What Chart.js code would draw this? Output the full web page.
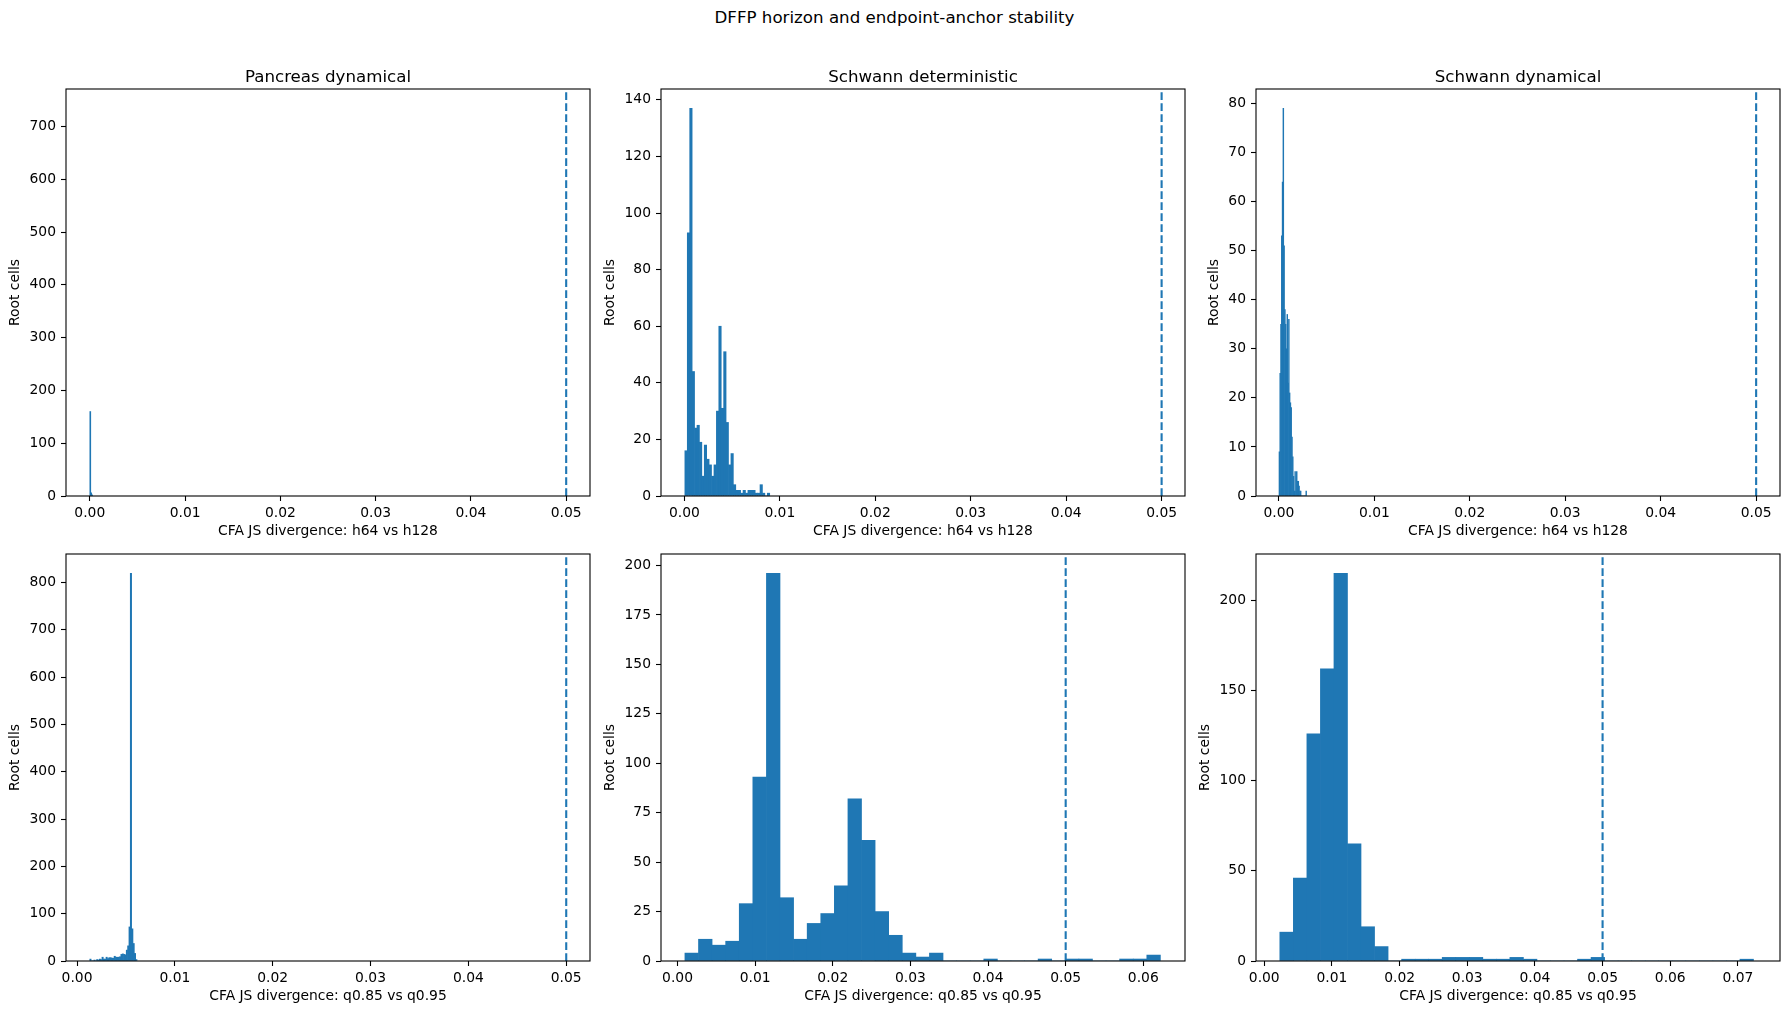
<!DOCTYPE html>
<html>
<head>
<meta charset="utf-8">
<title>DFFP horizon and endpoint-anchor stability</title>
<script src="https://cdn.jsdelivr.net/npm/chart.js@4.4.1/dist/chart.umd.min.js"></script>
<style>
    html, body { margin: 0; padding: 0; background: #ffffff; }
    #page { position: relative; width: 1789px; height: 1014px; overflow: hidden; font-family: 'DejaVu Sans', sans-serif; }
    #suptitle { position: absolute; left: 0; top: 8px; width: 1789px; text-align: center; font-size: 16.67px; line-height: 20px; color: #000; }
    canvas { position: absolute; }
</style>
</head>
<body>
<div id="page">
    <div id="suptitle">DFFP horizon and endpoint-anchor stability</div>
    <canvas id="chart0"></canvas>
    <canvas id="chart1"></canvas>
    <canvas id="chart2"></canvas>
    <canvas id="chart3"></canvas>
    <canvas id="chart4"></canvas>
    <canvas id="chart5"></canvas>
</div>
<script>
// Text
const panelTitles = ['Pancreas dynamical', 'Schwann deterministic', 'Schwann dynamical'];
const xAxisLabels = ['CFA JS divergence: h64 vs h128', 'CFA JS divergence: q0.85 vs q0.95'];
const yAxisLabel = 'Root cells';
const threshold = 0.05;

// Histogram counts per bin (top row: h64 vs h128, bottom row: q0.85 vs q0.95)
const pancreasHorizon = [160, 6, 2];
const schwannDetHorizon = [16, 93, 137, 44, 24, 25, 19, 7, 18, 13, 11, 7, 11, 30, 60, 31, 51, 26, 11, 15,
    4, 2, 2, 1, 2, 1, 2, 2, 2, 1, 1, 4, 1, 0, 1];
const schwannDynHorizon = [9, 25, 35, 53, 64, 79, 51, 38, 35, 30, 37, 23, 36, 21, 19, 18, 12, 8, 4, 1,
    5, 1, 5, 3, 3, 2, 1, 1, 0, 0, 0, 0, 0, 0, 1];
const pancreasAnchor = [4, 0, 0, 2, 0, 3, 2, 4, 3, 8, 4, 4, 8, 5, 7, 7, 6, 6, 10, 8,
    8, 8, 9, 14, 15, 14, 13, 23, 32, 72, 819, 68, 37, 16, 3];
const schwannDetAnchor = [4, 11, 8, 10, 29, 93, 196, 32, 11, 19, 24, 38, 82, 61, 25, 13, 4, 2, 4, 0,
    0, 0, 1, 0, 0, 0, 1, 0, 1, 1, 0, 0, 1, 1, 3];
const schwannDynAnchor = [16, 46, 126, 162, 215, 65, 19, 8, 0, 1, 1, 1, 2, 2, 2, 1, 1, 2, 1, 0,
    0, 0, 1, 2, 0, 0, 0, 0, 0, 0, 0, 0, 0, 0, 1];

// Bin edges: first edge and bin width for each panel
const binStarts = [0, 0.00005, 0.00001, 0.0013, 0.00095, 0.0023];
const binWidths = [0.0001, 0.000254, 0.0000826, 0.000138, 0.00175, 0.002];

// Axis limits
const xMins = [-0.0025, -0.00245, -0.0024, -0.00113, -0.00213, -0.00122];
const xMaxs = [0.0525, 0.05245, 0.0525, 0.05243, 0.06537, 0.07622];
const yMaxs = [771, 143.85, 82.95, 860, 205.8, 225.75];

// Tick values
const xTicksTo05 = [0, 0.01, 0.02, 0.03, 0.04, 0.05];
const xTicksTo06 = [0, 0.01, 0.02, 0.03, 0.04, 0.05, 0.06];
const xTicksTo07 = [0, 0.01, 0.02, 0.03, 0.04, 0.05, 0.06, 0.07];
const yTicksPancreasH = [0, 100, 200, 300, 400, 500, 600, 700];
const yTicksSchwannDetH = [0, 20, 40, 60, 80, 100, 120, 140];
const yTicksSchwannDynH = [0, 10, 20, 30, 40, 50, 60, 70, 80];
const yTicksPancreasQ = [0, 100, 200, 300, 400, 500, 600, 700, 800];
const yTicksSchwannDetQ = [0, 25, 50, 75, 100, 125, 150, 175, 200];
const yTicksSchwannDynQ = [0, 50, 100, 150, 200];

// Layout (px)
const colLeft = [66, 661, 1256];
const rowTop = [89, 554];
const plotW = 524, plotH = 407;
const yAxisW = 70, titleH = 21, xAxisH = 48, rightPad = 20;

const barColor = '#1f77b4';

Chart.defaults.font.family = "'DejaVu Sans', sans-serif";
Chart.defaults.font.size = 13.89;
Chart.defaults.color = '#000000';

// Axes box on all four sides
const framePlugin = {
    id: 'frame',
    afterDatasetsDraw(chart) {
        const a = chart.chartArea;
        const ctx = chart.ctx;
        ctx.save();
        ctx.strokeStyle = '#000000';
        ctx.lineWidth = 1.1;
        ctx.strokeRect(a.left, a.top, a.right - a.left, a.bottom - a.top);
        ctx.restore();
    }
};

// Create one histogram panel
function createHistogram(canvasId, col, row, panel) {
    const canvas = document.getElementById(canvasId);
    if (!canvas) return null;

    const w = plotW + yAxisW + rightPad;
    const h = plotH + titleH + xAxisH;
    canvas.width = w;
    canvas.height = h;
    canvas.style.width = w + 'px';
    canvas.style.height = h + 'px';
    canvas.style.left = (colLeft[col] - yAxisW) + 'px';
    canvas.style.top = (rowTop[row] - titleH) + 'px';

    const bars = panel.counts.map((count, i) => ({
        x: panel.start + (i + 0.5) * panel.width,
        y: count
    }));

    // keep the y label clear of the widest tick label
    const digits = Math.max(...panel.yTicks.map(v => String(v).length));
    const yTitlePad = yAxisW - 10 - digits * 8.84 - 5.6 - 16.7;

    return new Chart(canvas, {
        type: 'bar',
        data: {
            datasets: [{
                type: 'bar',
                data: bars,
                backgroundColor: barColor,
                borderWidth: 0,
                barPercentage: 1,
                categoryPercentage: 1,
                order: 2
            }, {
                type: 'line',
                data: [{ x: threshold, y: 0 }, { x: threshold, y: panel.yMax }],
                borderColor: barColor,
                borderWidth: 2.1,
                borderDash: [7.7, 3.3],
                pointRadius: 0,
                fill: false,
                order: 1
            }]
        },
        options: {
            responsive: false,
            animation: false,
            devicePixelRatio: 1,
            layout: {
                padding: { left: 0, top: 0, right: rightPad, bottom: 0 }
            },
            plugins: {
                legend: { display: false },
                tooltip: { enabled: false },
                title: {
                    display: true,
                    text: panel.title,
                    fullSize: false,
                    color: '#000000',
                    font: { size: 16.67, weight: 'normal', lineHeight: '20px' },
                    padding: { top: 0, bottom: 1 }
                }
            },
            scales: {
                x: {
                    type: 'linear',
                    min: panel.xMin,
                    max: panel.xMax,
                    offset: false,
                    grid: {
                        display: true,
                        drawOnChartArea: false,
                        drawTicks: true,
                        tickLength: 5,
                        tickWidth: 1.1,
                        tickColor: '#000000',
                        offset: false
                    },
                    border: { display: false },
                    ticks: {
                        autoSkip: false,
                        maxRotation: 0,
                        padding: 4,
                        callback: (value) => value.toFixed(2)
                    },
                    afterBuildTicks: (scale) => {
                        scale.ticks = panel.xTicks.map(v => ({ value: v }));
                    },
                    afterFit: (scale) => {
                        scale.height = xAxisH;
                        scale.paddingLeft = 0;
                        scale.paddingRight = 0;
                    },
                    title: {
                        display: true,
                        text: panel.xLabel,
                        font: { size: 13.89, lineHeight: 1.2 },
                        padding: { top: 0, bottom: 4 }
                    }
                },
                y: {
                    type: 'linear',
                    min: 0,
                    max: panel.yMax,
                    grid: {
                        display: true,
                        drawOnChartArea: false,
                        drawTicks: true,
                        tickLength: 5,
                        tickWidth: 1.1,
                        tickColor: '#000000'
                    },
                    border: { display: false },
                    ticks: {
                        autoSkip: false,
                        padding: 5,
                        callback: (value) => String(value)
                    },
                    afterBuildTicks: (scale) => {
                        scale.ticks = panel.yTicks.map(v => ({ value: v }));
                    },
                    afterFit: (scale) => {
                        scale.width = yAxisW;
                        scale.paddingTop = 0;
                        scale.paddingBottom = 0;
                    },
                    title: {
                        display: true,
                        text: yAxisLabel,
                        font: { size: 13.89, lineHeight: 1.2 },
                        padding: { top: yTitlePad, bottom: 0 }
                    }
                }
            }
        },
        plugins: [framePlugin]
    });
}

// Build the six panels
const panelCounts = [pancreasHorizon, schwannDetHorizon, schwannDynHorizon, pancreasAnchor, schwannDetAnchor, schwannDynAnchor];
const panelXTicks = [xTicksTo05, xTicksTo05, xTicksTo05, xTicksTo05, xTicksTo06, xTicksTo07];
const panelYTicks = [yTicksPancreasH, yTicksSchwannDetH, yTicksSchwannDynH, yTicksPancreasQ, yTicksSchwannDetQ, yTicksSchwannDynQ];

panelCounts.forEach((counts, i) => {
    const row = Math.floor(i / 3);
    const col = i % 3;
    createHistogram('chart' + i, col, row, {
        counts: counts,
        start: binStarts[i],
        width: binWidths[i],
        xMin: xMins[i],
        xMax: xMaxs[i],
        yMax: yMaxs[i],
        xTicks: panelXTicks[i],
        yTicks: panelYTicks[i],
        title: row === 0 ? panelTitles[col] : '',
        xLabel: xAxisLabels[row]
    });
});
</script>
</body>
</html>
